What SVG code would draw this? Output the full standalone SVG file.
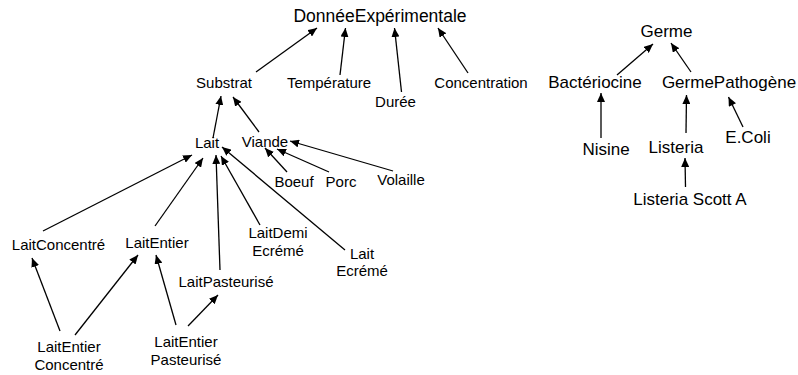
<svg xmlns="http://www.w3.org/2000/svg" width="798" height="375" viewBox="0 0 798 375">
<defs>
<marker id="ah" markerUnits="userSpaceOnUse" markerWidth="10" markerHeight="8" refX="9" refY="4" orient="auto">
<path d="M0,0 L9,4 L0,8 Z" fill="#000"/>
</marker>
<style>
text{font-family:"Liberation Sans",Arial,sans-serif;fill:#000;text-anchor:middle}
.s{font-size:15px}
.b{font-size:17.5px}
.r{font-size:17px}
.e line{stroke:#000;stroke-width:1.3;marker-end:url(#ah)}
</style>
</defs>
<rect width="798" height="375" fill="#fff"/>
<g id="connectors" class="e">
<line x1="256" y1="72" x2="317" y2="28"/>
<line x1="340" y1="75" x2="345.5" y2="28"/>
<line x1="401.5" y1="92" x2="394.5" y2="28"/>
<line x1="468" y1="73" x2="438" y2="28"/>
<line x1="213" y1="138" x2="221" y2="96"/>
<line x1="259" y1="132" x2="233" y2="97"/>
<line x1="287" y1="172" x2="265" y2="148"/>
<line x1="329" y1="172" x2="277" y2="149"/>
<line x1="393" y1="171" x2="290" y2="141"/>
<line x1="43" y1="231" x2="192" y2="155"/>
<line x1="155" y1="226" x2="203" y2="158"/>
<line x1="220" y1="270" x2="216" y2="155"/>
<line x1="260" y1="225" x2="221" y2="156"/>
<line x1="345" y1="250" x2="222" y2="147"/>
<line x1="60" y1="331" x2="32" y2="258"/>
<line x1="75" y1="335" x2="138" y2="255"/>
<line x1="176" y1="325" x2="156" y2="255"/>
<line x1="188" y1="326" x2="218" y2="295"/>
<line x1="617" y1="75" x2="653" y2="44"/>
<line x1="691" y1="72" x2="671" y2="43"/>
<line x1="601" y1="138" x2="601" y2="93"/>
<line x1="686" y1="133" x2="686.5" y2="95"/>
<line x1="743" y1="127" x2="728.5" y2="97"/>
<line x1="685.5" y1="187" x2="685" y2="158"/>
</g>
<g id="DonneeExperimentale"><text class="b" x="380" y="22">DonnéeExpérimentale</text></g>
<g id="Substrat"><text class="s" x="224" y="88">Substrat</text></g>
<g id="Temperature"><text class="s" x="329" y="88">Température</text></g>
<g id="Duree"><text class="s" x="395.5" y="107">Durée</text></g>
<g id="Concentration"><text class="s" x="481" y="88">Concentration</text></g>
<g id="Lait"><text class="s" x="207" y="147.5">Lait</text></g>
<g id="Viande"><text class="s" x="265" y="147">Viande</text></g>
<g id="Boeuf"><text class="s" x="294" y="187">Boeuf</text></g>
<g id="Porc"><text class="s" x="341" y="187">Porc</text></g>
<g id="Volaille"><text class="s" x="401" y="185">Volaille</text></g>
<g id="LaitConcentre"><text class="s" x="58.5" y="249.5">LaitConcentré</text></g>
<g id="LaitEntier"><text class="s" x="157" y="247.5">LaitEntier</text></g>
<g id="LaitDemiEcreme"><text class="s" x="278" y="238">LaitDemi</text><text class="s" x="278" y="255.5">Ecrémé</text></g>
<g id="LaitEcreme"><text class="s" x="362" y="258.5">Lait</text><text class="s" x="362" y="276">Ecrémé</text></g>
<g id="LaitPasteurise"><text class="s" x="226" y="287">LaitPasteurisé</text></g>
<g id="LaitEntierConcentre"><text class="s" x="69" y="352">LaitEntier</text><text class="s" x="69" y="370">Concentré</text></g>
<g id="LaitEntierPasteurise"><text class="s" x="186" y="347">LaitEntier</text><text class="s" x="186" y="364.5">Pasteurisé</text></g>
<g id="Germe"><text class="r" x="666.5" y="37">Germe</text></g>
<g id="Bacteriocine"><text class="r" x="595" y="88">Bactériocine</text></g>
<g id="GermePathogene"><text class="r" x="729" y="88">GermePathogène</text></g>
<g id="Nisine"><text class="r" x="606" y="155">Nisine</text></g>
<g id="Listeria"><text class="r" x="676" y="153">Listeria</text></g>
<g id="EColi"><text class="r" x="748" y="143">E.Coli</text></g>
<g id="ListeriaScottA"><text class="r" x="690" y="205">Listeria Scott A</text></g>
</svg>
